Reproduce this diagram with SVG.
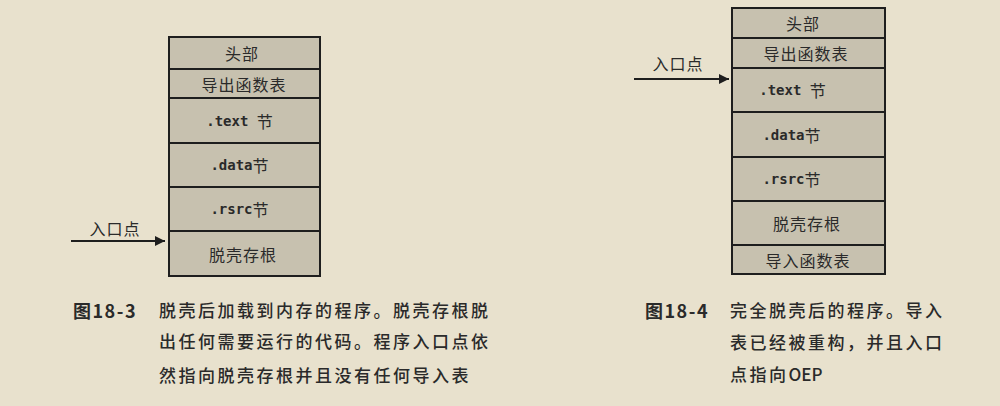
<svg xmlns="http://www.w3.org/2000/svg" width="1000" height="406" viewBox="0 0 1000 406">
<style>
.bg{fill:#e8e1cd}
.row{fill:#c7c1af;stroke:#1e1e1e;stroke-width:2}
.cj{font-family:"Noto Sans CJK SC","Noto Sans",sans-serif;font-size:16px;fill:#2a2a2a;letter-spacing:1px;font-weight:normal}
.mo{font-family:"DejaVu Sans Mono","Noto Sans CJK SC",monospace;font-size:14px;fill:#2a2a2a;font-weight:bold}
.cap{font-family:"Noto Sans CJK SC","Noto Sans",sans-serif;font-size:17px;fill:#2a2a2a;letter-spacing:2.5px;font-weight:500}
.num{font-family:"Noto Sans CJK SC","Noto Sans",sans-serif;font-size:18px;fill:#2a2a2a;font-weight:bold;letter-spacing:1.5px}
.conn{stroke:#1e1e1e;stroke-width:2;fill:none}
</style>
<defs>
<marker id="ah" viewBox="0 0 10 10" refX="10" refY="5" markerWidth="6" markerHeight="5" markerUnits="strokeWidth" orient="auto">
<path d="M0,0 L10,5 L0,10 Z" fill="#1e1e1e"/>
</marker>
</defs>
<rect class="bg" x="0" y="0" width="1000" height="406"/>

<g id="left-stack">
<g id="l-header"><rect class="row" x="169" y="37" width="151" height="32"/><text class="cj" x="242" y="53" text-anchor="middle" dominant-baseline="central">头部</text></g>
<g id="l-export"><rect class="row" x="169" y="69" width="151" height="29"/><text class="cj" x="244" y="83.5" text-anchor="middle" dominant-baseline="central">导出函数表</text></g>
<g id="l-text"><rect class="row" x="169" y="98" width="151" height="45"/><text class="mo" x="240" y="120.5" text-anchor="middle" dominant-baseline="central">.text <tspan class="cj">节</tspan></text></g>
<g id="l-data"><rect class="row" x="169" y="143" width="151" height="44"/><text class="mo" x="240" y="165" text-anchor="middle" dominant-baseline="central">.data<tspan class="cj">节</tspan></text></g>
<g id="l-rsrc"><rect class="row" x="169" y="187" width="151" height="44"/><text class="mo" x="240" y="209" text-anchor="middle" dominant-baseline="central">.rsrc<tspan class="cj">节</tspan></text></g>
<g id="l-stub"><rect class="row" x="169" y="231" width="151" height="45"/><text class="cj" x="243" y="253.5" text-anchor="middle" dominant-baseline="central">脱壳存根</text></g>
</g>

<g id="right-stack">
<g id="r-header"><rect class="row" x="732" y="8" width="153" height="30"/><text class="cj" x="803" y="23" text-anchor="middle" dominant-baseline="central">头部</text></g>
<g id="r-export"><rect class="row" x="732" y="38" width="153" height="30"/><text class="cj" x="806" y="53" text-anchor="middle" dominant-baseline="central">导出函数表</text></g>
<g id="r-text"><rect class="row" x="732" y="68" width="153" height="44"/><text class="mo" x="793" y="90" text-anchor="middle" dominant-baseline="central">.text <tspan class="cj">节</tspan></text></g>
<g id="r-data"><rect class="row" x="732" y="112" width="153" height="45"/><text class="mo" x="792" y="134.5" text-anchor="middle" dominant-baseline="central">.data<tspan class="cj">节</tspan></text></g>
<g id="r-rsrc"><rect class="row" x="732" y="157" width="153" height="44"/><text class="mo" x="792" y="179" text-anchor="middle" dominant-baseline="central">.rsrc<tspan class="cj">节</tspan></text></g>
<g id="r-stub"><rect class="row" x="732" y="201" width="153" height="44"/><text class="cj" x="807" y="223" text-anchor="middle" dominant-baseline="central">脱壳存根</text></g>
<g id="r-import"><rect class="row" x="732" y="245" width="153" height="29"/><text class="cj" x="808" y="259.5" text-anchor="middle" dominant-baseline="central">导入函数表</text></g>
</g>

<g id="connectors">
<path class="conn" d="M71,241 L165,241" marker-end="url(#ah)"/>
<path class="conn" d="M634,79 L729,79" marker-end="url(#ah)"/>
</g>
<g id="entry-labels">
<text class="cj" x="115" y="228" text-anchor="middle" dominant-baseline="central">入口点</text>
<text class="cj" x="678" y="63" text-anchor="middle" dominant-baseline="central">入口点</text>
</g>

<g id="caption-left">
<text class="num" x="73" y="318">图18-3</text>
<text class="cap" x="159" y="317">脱壳后加载到内存的程序。脱壳存根脱</text>
<text class="cap" x="159" y="348">出任何需要运行的代码。程序入口点依</text>
<text class="cap" x="159" y="382">然指向脱壳存根并且没有任何导入表</text>
</g>
<g id="caption-right">
<text class="num" x="645" y="318">图18-4</text>
<text class="cap" x="730" y="317">完全脱壳后的程序。导入</text>
<text class="cap" x="730" y="349">表已经被重构，并且入口</text>
<text class="cap" x="730" y="381">点指向<tspan letter-spacing="0">OEP</tspan></text>
</g>
</svg>
